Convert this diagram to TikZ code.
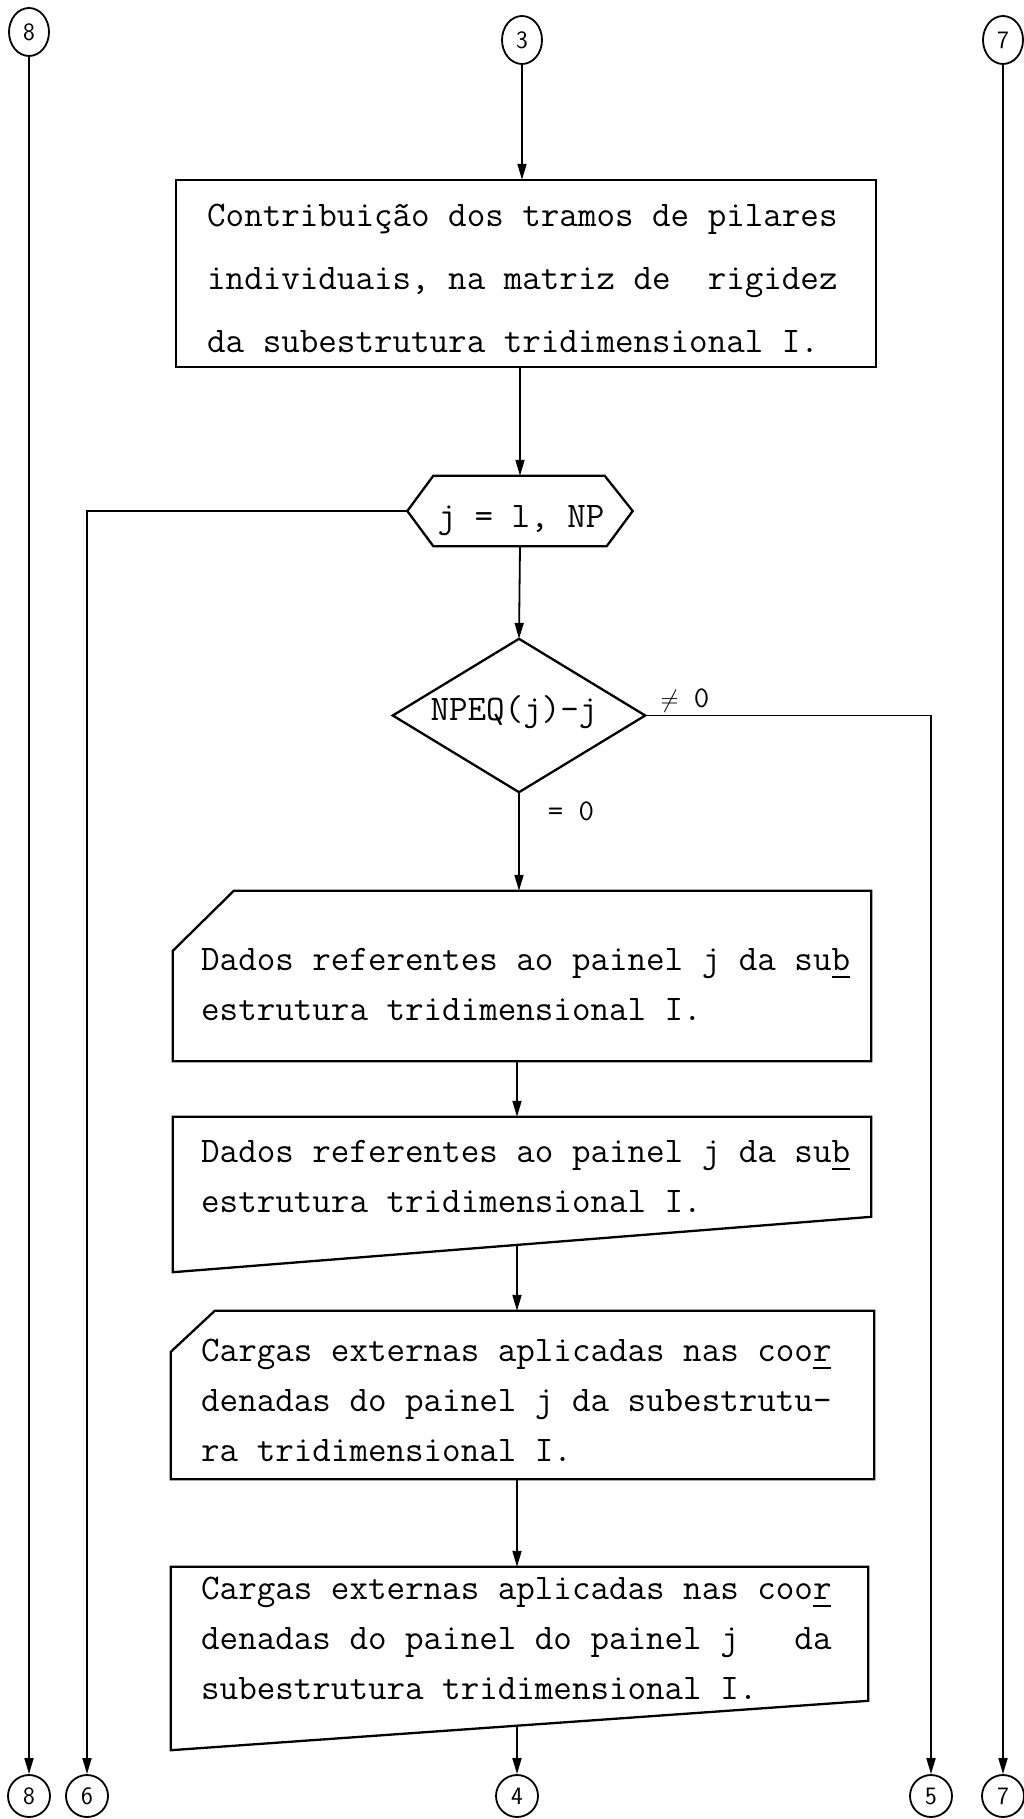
\documentclass[tikz,border=0pt]{standalone}
\usetikzlibrary{arrows.meta,calc,shapes.geometric}
\newcommand{\hyul}[1]{\rlap{\rule[-8pt]{18pt}{2.2pt}}#1}
\tikzset{
 arr/.style={line width=1.8pt,-{Triangle[length=16pt,width=9pt]}},
 outl/.style={line width=2.3pt,line join=miter},
 holder/.style={rectangle,draw=none,inner sep=0pt},
 conT/.style={ellipse,draw,line width=1.8pt,minimum width=40pt,minimum height=48pt,inner sep=0pt,font=\sffamily\fontsize{25}{25}\selectfont},
 conB/.style={conT,minimum width=42pt,minimum height=42pt},
 txt/.style={anchor=west,align=left,inner sep=0pt,font=\ttfamily\frenchspacing\fontsize{36}{50}\selectfont},
 one/.style={anchor=base,inner sep=0pt,font=\ttfamily\fontsize{36}{36}\selectfont},
 lbl/.style={anchor=base,inner sep=0pt,font=\ttfamily\fontsize{30}{30}\selectfont},
}
\begin{document}
\begin{tikzpicture}[x=1pt,y=-1pt]
\useasboundingbox (0,0) rectangle (1023,1819);
% off-page connectors
\node[conT] (c8t) at (29,32) {8};
\node[conT] (c3) at (522,40) {3};
\node[conT] (c7t) at (1003,40) {7};
\node[conB] (c8b) at (29,1796) {8};
\node[conB] (c6) at (87,1796) {6};
\node[conB] (c4) at (517,1796) {4};
\node[conB] (c5) at (931,1796) {5};
\node[conB] (c7b) at (1003,1796) {7};
% box 1
\node[holder,minimum width=700pt,minimum height=187pt] (box1) at (526,273.5) {};
\draw[outl] (box1.north west) rectangle (box1.south east);
\node[txt,font=\ttfamily\frenchspacing\fontsize{36}{63}\selectfont] (t1) at (207,278)
 {Contribuição dos tramos de pilares\\individuais, na matriz de\ \ rigidez\\da subestrutura tridimensional I.};
% loop hexagon
\node[holder,minimum width=225pt,minimum height=70pt] (hex) at (520,511) {};
\draw[outl] (hex.west) -- ($(hex.north west)+(26,0)$) -- ($(hex.north east)+(-28,0)$) -- (hex.east)
 -- ($(hex.south east)+(-26,0)$) -- ($(hex.south west)+(26,0)$) -- cycle;
\node[one] (th) at (521,527) {j = l, NP};
% decision
\node[holder,minimum width=252pt,minimum height=153pt] (diam) at (519,715.5) {};
\draw[outl] (diam.north) -- (diam.east) -- (diam.south) -- (diam.west) -- cycle;
\node[one] (td) at (514,720) {NPEQ(j)-j};
\node[lbl] (lne) at (685,707) {$\neq$ 0};
\node[lbl] (leq) at (571,820) {= 0};
% box A (card)
\node[holder,minimum width=698pt,minimum height=170pt] (boxA) at (522,976) {};
\draw[outl] ($(boxA.north west)+(61,0)$) -- (boxA.north east) -- (boxA.south east) -- (boxA.south west)
 -- ($(boxA.north west)+(0,60)$) -- cycle;
\node[txt] (tA) at (201,984) {Dados referentes ao painel j da su\hyul{b}\\estrutura tridimensional I.};
% box B (document)
\node[holder,minimum width=698pt,minimum height=155pt] (boxB) at (522,1194.5) {};
\coordinate (bBr) at ($(boxB.north east)+(0,100)$);
\draw[outl] (boxB.north west) -- (boxB.north east) -- (bBr) -- (boxB.south west) -- cycle;
\node[txt] (tB) at (201,1176) {Dados referentes ao painel j da su\hyul{b}\\estrutura tridimensional I.};
% box C (card)
\node[holder,minimum width=703pt,minimum height=168pt] (boxC) at (522.5,1395) {};
\draw[outl] ($(boxC.north west)+(44,0)$) -- (boxC.north east) -- (boxC.south east) -- (boxC.south west)
 -- ($(boxC.north west)+(0,41)$) -- cycle;
\node[txt] (tC) at (201,1400) {Cargas externas aplicadas nas coo\hyul{r}\\denadas do painel j da subestrutu-\\ra tridimensional I.};
% box D (document)
\node[holder,minimum width=697pt,minimum height=183pt] (boxD) at (519.5,1658.5) {};
\coordinate (bDr) at ($(boxD.north east)+(0,134)$);
\draw[outl] (boxD.north west) -- (boxD.north east) -- (bDr) -- (boxD.south west) -- cycle;
\node[txt] (tD) at (201,1638) {Cargas externas aplicadas nas coo\hyul{r}\\denadas do painel do painel j\ \ \ da\\subestrutura tridimensional I.};
% exits on slanted bottoms
\coordinate (bBo) at (intersection of boxB.south west--bBr and c4.north--c4.south);
\coordinate (bDo) at (intersection of boxD.south west--bDr and c4.north--c4.south);
% connectors
\draw[arr] (c3.south) -- (c3.south |- box1.north);
\draw[arr] (box1.south -| hex.north) -- (hex.north);
\draw[arr] (hex.south) -- (diam.north);
\draw[arr] (diam.south) -- (diam.south |- boxA.north);
\draw[arr] (boxA.south -| c4.north) -- (c4.north |- boxB.north);
\draw[arr] (bBo) -- (c4.north |- boxC.north);
\draw[arr] (boxC.south -| c4.north) -- (c4.north |- boxD.north);
\draw[arr] (bDo) -- (c4.north);
\draw[arr] (c8t.south) -- (c8b.north);
\draw[arr] (c7t.south) -- (c7b.north);
\draw[arr] (hex.west) -| (c6.north);
\draw[arr] (diam.east) -| (c5.north);
\end{tikzpicture}
\end{document}
